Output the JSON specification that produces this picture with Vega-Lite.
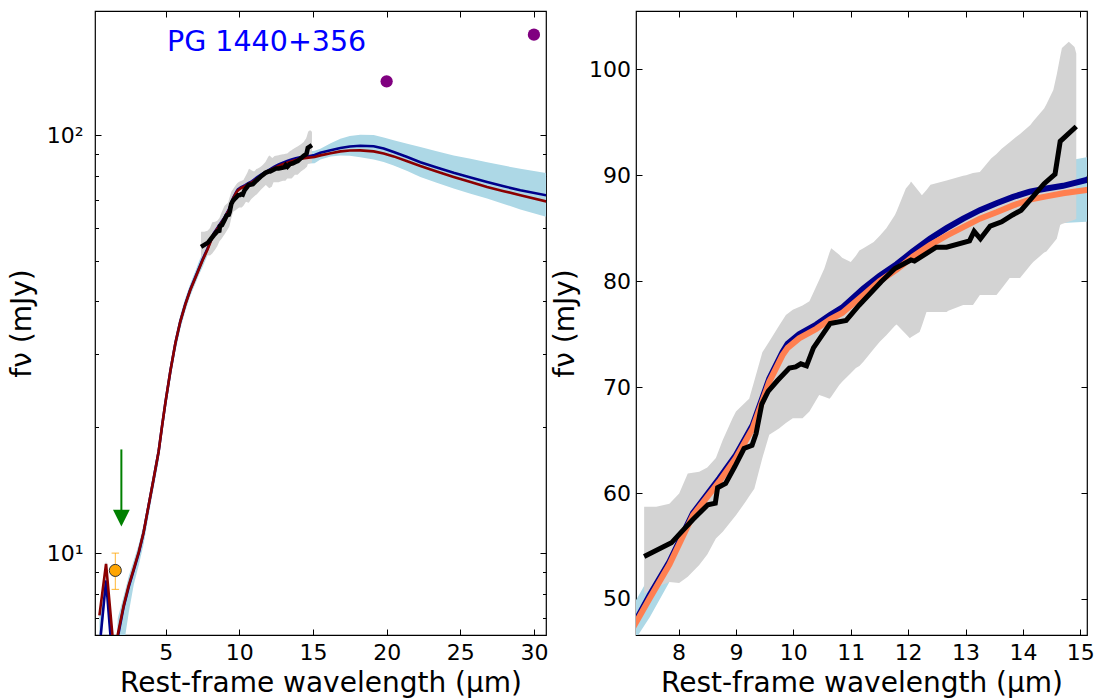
{
  "$schema": "https://vega.github.io/schema/vega-lite/v6.json",
  "background": "white",
  "padding": {"left": 7, "top": 9, "right": 3, "bottom": 4},
  "spacing": 90,
  "bounds": "flush",
  "config": {
    "font": "DejaVu Sans",
    "view": {"stroke": "#000000", "strokeWidth": 1.2},
    "axis": {
      "domain": false, "grid": false, "tickColor": "#000000", "tickWidth": 1,
      "labelColor": "#000000", "titleColor": "#000000",
      "labelFont": "DejaVu Sans", "titleFont": "DejaVu Sans",
      "labelFontSize": 22, "titleFontSize": 28, "titleFontWeight": "normal",
      "tickSize": -6, "labelPadding": 13
    }
  },
  "datasets": {
    "model": [
      {"x": 0.5, "blue": 5.9, "red": 7.1, "lo": 5.5, "hi": 7.3},
      {"x": 0.95, "blue": 8.6, "red": 9.42, "lo": 8.2, "hi": 9.6},
      {"x": 1.45, "blue": 5.2, "red": 6.0, "lo": 5.0, "hi": 6.2},
      {"x": 1.6, "blue": 5.0, "red": 5.2, "lo": 4.6, "hi": 5.6},
      {"x": 1.75, "blue": 6.3, "red": 6.4, "lo": 5.0, "hi": 7.0},
      {"x": 2.15, "blue": 7.45, "red": 7.5, "lo": 6.0, "hi": 7.9},
      {"x": 2.49, "blue": 8.3, "red": 8.37, "lo": 7.2, "hi": 8.8},
      {"x": 2.83, "blue": 9.1, "red": 9.17, "lo": 8.4, "hi": 9.6},
      {"x": 3.17, "blue": 10.0, "red": 10.06, "lo": 9.35, "hi": 10.5},
      {"x": 3.5, "blue": 11.2, "red": 11.22, "lo": 10.5, "hi": 11.7},
      {"x": 3.84, "blue": 13.0, "red": 13.0, "lo": 12.3, "hi": 13.5},
      {"x": 4.18, "blue": 15.05, "red": 15.06, "lo": 14.3, "hi": 15.7},
      {"x": 4.52, "blue": 17.5, "red": 17.5, "lo": 16.6, "hi": 18.2},
      {"x": 4.75, "blue": 20.1, "red": 20.1, "lo": 19.1, "hi": 20.9},
      {"x": 4.98, "blue": 22.9, "red": 22.9, "lo": 21.8, "hi": 23.8},
      {"x": 5.32, "blue": 27.3, "red": 27.3, "lo": 26.0, "hi": 28.4},
      {"x": 5.66, "blue": 31.8, "red": 31.8, "lo": 30.4, "hi": 33.0},
      {"x": 5.99, "blue": 35.8, "red": 35.8, "lo": 34.3, "hi": 37.1},
      {"x": 6.33, "blue": 39.4, "red": 39.3, "lo": 37.9, "hi": 40.7},
      {"x": 6.67, "blue": 42.7, "red": 42.6, "lo": 41.2, "hi": 44.1},
      {"x": 7.01, "blue": 45.7, "red": 45.5, "lo": 44.1, "hi": 47.2},
      {"x": 7.26, "blue": 48.0, "red": 47.8, "lo": 46.3, "hi": 49.9},
      {"x": 7.5, "blue": 50.4, "red": 50.1, "lo": 48.3, "hi": 52.2},
      {"x": 7.84, "blue": 53.5, "red": 53.25, "lo": 51.6, "hi": 55.4},
      {"x": 8.25, "blue": 58.1, "red": 57.9, "lo": 56.0, "hi": 60.0},
      {"x": 8.71, "blue": 61.4, "red": 61.1, "lo": 59.3, "hi": 63.3},
      {"x": 9.0, "blue": 63.6, "red": 63.3, "lo": 61.5, "hi": 65.6},
      {"x": 9.29, "blue": 66.4, "red": 66.1, "lo": 64.2, "hi": 68.5},
      {"x": 9.58, "blue": 70.8, "red": 70.5, "lo": 68.5, "hi": 73.0},
      {"x": 9.81, "blue": 73.3, "red": 73.0, "lo": 71.0, "hi": 75.5},
      {"x": 9.9, "blue": 74.1, "red": 73.7, "lo": 71.8, "hi": 76.3},
      {"x": 10.1, "blue": 75.0, "red": 74.6, "lo": 72.7, "hi": 77.2},
      {"x": 10.4, "blue": 75.9, "red": 75.5, "lo": 73.6, "hi": 78.2},
      {"x": 10.64, "blue": 76.8, "red": 76.4, "lo": 74.3, "hi": 79.0},
      {"x": 10.85, "blue": 77.5, "red": 77.0, "lo": 74.9, "hi": 79.7},
      {"x": 11.22, "blue": 79.3, "red": 78.7, "lo": 76.7, "hi": 81.6},
      {"x": 11.5, "blue": 80.5, "red": 80.0, "lo": 77.8, "hi": 82.8},
      {"x": 11.8, "blue": 81.6, "red": 81.1, "lo": 78.9, "hi": 84.0},
      {"x": 12.08, "blue": 82.8, "red": 82.3, "lo": 80.0, "hi": 85.3},
      {"x": 12.38, "blue": 84.0, "red": 83.4, "lo": 81.2, "hi": 86.5},
      {"x": 12.67, "blue": 85.0, "red": 84.3, "lo": 82.1, "hi": 87.5},
      {"x": 12.96, "blue": 85.9, "red": 85.1, "lo": 83.0, "hi": 88.5},
      {"x": 13.25, "blue": 86.7, "red": 85.9, "lo": 83.7, "hi": 89.3},
      {"x": 13.54, "blue": 87.35, "red": 86.5, "lo": 84.3, "hi": 90.0},
      {"x": 13.83, "blue": 87.95, "red": 87.15, "lo": 84.8, "hi": 90.5},
      {"x": 14.12, "blue": 88.45, "red": 87.7, "lo": 85.2, "hi": 91.0},
      {"x": 14.41, "blue": 88.75, "red": 88.0, "lo": 85.4, "hi": 91.2},
      {"x": 14.7, "blue": 89.0, "red": 88.3, "lo": 85.5, "hi": 91.3},
      {"x": 15.11, "blue": 89.55, "red": 88.6, "lo": 85.6, "hi": 91.7},
      {"x": 15.5, "blue": 90.7, "red": 89.4, "lo": 87.4, "hi": 92.7},
      {"x": 16.2, "blue": 92.0, "red": 90.5, "lo": 88.8, "hi": 95.6},
      {"x": 16.86, "blue": 93.1, "red": 91.4, "lo": 89.4, "hi": 98.0},
      {"x": 17.5, "blue": 93.9, "red": 91.8, "lo": 89.2, "hi": 99.5},
      {"x": 18.21, "blue": 94.3, "red": 91.9, "lo": 88.5, "hi": 100.2},
      {"x": 19.12, "blue": 94.0, "red": 91.4, "lo": 87.4, "hi": 100.0},
      {"x": 19.8, "blue": 92.8, "red": 90.3, "lo": 86.2, "hi": 98.7},
      {"x": 20.48, "blue": 91.1, "red": 88.9, "lo": 84.6, "hi": 97.1},
      {"x": 21.4, "blue": 88.6, "red": 86.6, "lo": 82.0, "hi": 95.3},
      {"x": 22.29, "blue": 86.1, "red": 84.3, "lo": 79.4, "hi": 93.6},
      {"x": 23.4, "blue": 83.6, "red": 81.8, "lo": 76.9, "hi": 91.4},
      {"x": 24.55, "blue": 81.2, "red": 79.4, "lo": 74.5, "hi": 89.4},
      {"x": 25.7, "blue": 79.1, "red": 77.2, "lo": 72.4, "hi": 87.7},
      {"x": 26.82, "blue": 77.2, "red": 75.1, "lo": 70.5, "hi": 86.1},
      {"x": 27.95, "blue": 75.4, "red": 73.4, "lo": 68.4, "hi": 84.5},
      {"x": 29.08, "blue": 73.8, "red": 71.8, "lo": 66.4, "hi": 83.0},
      {"x": 30.9, "blue": 71.7, "red": 69.3, "lo": 63.6, "hi": 81.1}
    ],
    "gray": [
      {"x": 7.40, "lo": 50.5, "hi": 58.7},
      {"x": 7.61, "lo": 51.1, "hi": 58.7},
      {"x": 7.84, "lo": 51.6, "hi": 59.0},
      {"x": 8.01, "lo": 51.5, "hi": 59.95},
      {"x": 8.16, "lo": 52.1, "hi": 61.85},
      {"x": 8.36, "lo": 53.2, "hi": 62.0},
      {"x": 8.50, "lo": 54.2, "hi": 62.4},
      {"x": 8.65, "lo": 55.7, "hi": 63.3},
      {"x": 8.77, "lo": 56.35, "hi": 65.0},
      {"x": 8.94, "lo": 57.5, "hi": 67.05},
      {"x": 9.00, "lo": 57.9, "hi": 67.7},
      {"x": 9.17, "lo": 59.2, "hi": 68.6},
      {"x": 9.23, "lo": 59.7, "hi": 68.9},
      {"x": 9.32, "lo": 60.4, "hi": 70.6},
      {"x": 9.46, "lo": 63.3, "hi": 73.3},
      {"x": 9.58, "lo": 65.5, "hi": 74.3},
      {"x": 9.75, "lo": 66.1, "hi": 75.8},
      {"x": 9.87, "lo": 66.6, "hi": 76.8},
      {"x": 9.99, "lo": 67.05, "hi": 77.3},
      {"x": 10.16, "lo": 67.05, "hi": 77.7},
      {"x": 10.28, "lo": 67.7, "hi": 78.1},
      {"x": 10.45, "lo": 69.25, "hi": 80.1},
      {"x": 10.54, "lo": 69.1, "hi": 81.2},
      {"x": 10.63, "lo": 68.9, "hi": 82.7},
      {"x": 10.66, "lo": 69.1, "hi": 83.1},
      {"x": 10.80, "lo": 70.2, "hi": 82.5},
      {"x": 10.85, "lo": 70.5, "hi": 82.2},
      {"x": 11.00, "lo": 71.3, "hi": 81.8},
      {"x": 11.09, "lo": 71.8, "hi": 82.4},
      {"x": 11.15, "lo": 72.0, "hi": 82.9},
      {"x": 11.22, "lo": 72.4, "hi": 83.1},
      {"x": 11.40, "lo": 73.6, "hi": 83.7},
      {"x": 11.51, "lo": 74.3, "hi": 84.3},
      {"x": 11.62, "lo": 74.9, "hi": 85.0},
      {"x": 11.77, "lo": 75.8, "hi": 86.25},
      {"x": 11.80, "lo": 75.9, "hi": 86.6},
      {"x": 11.96, "lo": 75.0, "hi": 88.75},
      {"x": 12.03, "lo": 74.6, "hi": 89.2},
      {"x": 12.05, "lo": 74.7, "hi": 89.4},
      {"x": 12.20, "lo": 75.2, "hi": 88.4},
      {"x": 12.24, "lo": 75.8, "hi": 88.1},
      {"x": 12.32, "lo": 77.1, "hi": 88.6},
      {"x": 12.39, "lo": 77.1, "hi": 89.1},
      {"x": 12.67, "lo": 77.1, "hi": 89.5},
      {"x": 12.70, "lo": 77.2, "hi": 89.55},
      {"x": 12.96, "lo": 77.75, "hi": 89.95},
      {"x": 13.01, "lo": 77.75, "hi": 90.0},
      {"x": 13.13, "lo": 77.75, "hi": 90.2},
      {"x": 13.25, "lo": 78.7, "hi": 90.3},
      {"x": 13.45, "lo": 78.7, "hi": 91.6},
      {"x": 13.54, "lo": 78.7, "hi": 92.0},
      {"x": 13.63, "lo": 79.3, "hi": 92.5},
      {"x": 13.77, "lo": 80.3, "hi": 93.1},
      {"x": 13.88, "lo": 80.3, "hi": 93.6},
      {"x": 13.95, "lo": 80.3, "hi": 93.9},
      {"x": 14.13, "lo": 81.5, "hi": 94.75},
      {"x": 14.18, "lo": 81.8, "hi": 95.1},
      {"x": 14.37, "lo": 82.7, "hi": 96.3},
      {"x": 14.41, "lo": 82.8, "hi": 96.7},
      {"x": 14.53, "lo": 83.6, "hi": 98.05},
      {"x": 14.59, "lo": 84.0, "hi": 99.5},
      {"x": 14.65, "lo": 85.3, "hi": 101.2},
      {"x": 14.68, "lo": 85.4, "hi": 102.0},
      {"x": 14.80, "lo": 85.6, "hi": 102.6},
      {"x": 14.90, "lo": 85.8, "hi": 102.1},
      {"x": 14.93, "lo": 85.9, "hi": 101.5}
    ],
    "black": [
      {"x": 7.40, "f": 54.0},
      {"x": 7.875, "f": 55.3},
      {"x": 8.25, "f": 57.5},
      {"x": 8.51, "f": 58.9},
      {"x": 8.64, "f": 59.05},
      {"x": 8.68, "f": 60.5},
      {"x": 8.82, "f": 60.9},
      {"x": 8.98, "f": 62.5},
      {"x": 9.14, "f": 64.2},
      {"x": 9.28, "f": 64.5},
      {"x": 9.35, "f": 65.6},
      {"x": 9.45, "f": 68.4},
      {"x": 9.56, "f": 69.6},
      {"x": 9.72, "f": 70.6},
      {"x": 9.93, "f": 71.8},
      {"x": 10.04, "f": 71.9},
      {"x": 10.13, "f": 72.2},
      {"x": 10.23, "f": 72.0},
      {"x": 10.35, "f": 73.7},
      {"x": 10.64, "f": 76.0},
      {"x": 10.92, "f": 76.3},
      {"x": 11.15, "f": 77.75},
      {"x": 11.53, "f": 79.95},
      {"x": 11.77, "f": 81.2},
      {"x": 12.05, "f": 82.0},
      {"x": 12.11, "f": 81.9},
      {"x": 12.49, "f": 83.2},
      {"x": 12.67, "f": 83.2},
      {"x": 13.07, "f": 83.8},
      {"x": 13.15, "f": 84.7},
      {"x": 13.26, "f": 84.0},
      {"x": 13.43, "f": 85.2},
      {"x": 13.63, "f": 85.6},
      {"x": 13.82, "f": 86.25},
      {"x": 13.97, "f": 86.7},
      {"x": 14.13, "f": 87.7},
      {"x": 14.37, "f": 89.2},
      {"x": 14.56, "f": 90.1},
      {"x": 14.65, "f": 93.2},
      {"x": 14.93, "f": 94.6}
    ],
    "purple": [
      {"x": 20.0, "f": 134.4},
      {"x": 30.0, "f": 173.8}
    ],
    "obs": [
      {"x": 1.58, "f": 9.09, "lo": 8.19, "hi": 10.0}
    ],
    "caps": [
      {"x": 1.58, "f": 8.19},
      {"x": 1.58, "f": 10.0}
    ],
    "limit": [
      {"x": 1.99, "top": 17.7, "base": 12.65, "mid": 12.13}
    ],
    "label": [
      {"x": 5.09, "f": 158.8, "text": "PG 1440+356"}
    ]
  },
  "hconcat": [
    {
      "width": 451,
      "height": 624,
      "resolve": {"axis": {"x": "independent", "y": "independent"}},
      "layer": [
        {
          "data": {"name": "model"},
          "mark": {"type": "area", "color": "#add8e6", "opacity": 1, "clip": true},
          "encoding": {
            "x": {"field": "x", "type": "quantitative",
                  "scale": {"domain": [0.2, 30.82], "nice": false, "zero": false},
                  "axis": {"orient": "bottom", "values": [5, 10, 15, 20, 25, 30], "title": "Rest-frame wavelength (μm)", "labelPadding": 13, "titlePadding": 6}},
            "y": {"field": "lo", "type": "quantitative",
                  "scale": {"type": "log", "domain": [6.37, 198], "nice": false},
                  "axis": {"orient": "left", "values": [10, 100], "labelExpr": "datum.value >= 100 ? '10²' : '10¹'", "title": "fν (mJy)", "labelPadding": 18, "titlePadding": 16, "titleBaseline": "alphabetic"}},
            "y2": {"field": "hi"}
          }
        },
        {
          "data": {"name": "gray"},
          "mark": {"type": "area", "color": "#d3d3d3", "opacity": 1, "clip": true},
          "encoding": {
            "x": {"field": "x", "type": "quantitative",
                  "axis": {"orient": "top", "values": [5, 10, 15, 20, 25, 30], "labels": false, "title": null}},
            "y": {"field": "lo", "type": "quantitative",
                  "axis": {"orient": "right", "values": [10, 100], "labels": false, "title": null}},
            "y2": {"field": "hi"}
          }
        },
        {
          "data": {"name": "model"},
          "mark": {"type": "line", "color": "#00008b", "strokeWidth": 2.6, "clip": true},
          "encoding": {
            "x": {"field": "x", "type": "quantitative", "axis": null},
            "y": {"field": "blue", "type": "quantitative",
                  "axis": {"orient": "left", "values": [7, 8, 9, 20, 30, 40, 50, 60, 70, 80, 90], "labels": false, "title": null, "tickSize": -3.5}}
          }
        },
        {
          "data": {"name": "model"},
          "mark": {"type": "line", "color": "#8b0000", "strokeWidth": 2.6, "clip": true},
          "encoding": {
            "x": {"field": "x", "type": "quantitative", "axis": null},
            "y": {"field": "red", "type": "quantitative",
                  "axis": {"orient": "right", "values": [7, 8, 9, 20, 30, 40, 50, 60, 70, 80, 90], "labels": false, "title": null, "tickSize": -3.5}}
          }
        },
        {
          "data": {"name": "black"},
          "mark": {"type": "line", "color": "#000000", "strokeWidth": 4.6, "clip": true},
          "encoding": {
            "x": {"field": "x", "type": "quantitative", "axis": null},
            "y": {"field": "f", "type": "quantitative", "axis": null}
          }
        },
        {
          "data": {"name": "purple"},
          "mark": {"type": "point", "shape": "circle", "filled": true, "color": "#800080", "opacity": 1, "size": 150, "clip": true},
          "encoding": {
            "x": {"field": "x", "type": "quantitative", "axis": null},
            "y": {"field": "f", "type": "quantitative", "axis": null}
          }
        },
        {
          "data": {"name": "obs"},
          "mark": {"type": "rule", "color": "#ffa500", "strokeWidth": 1, "opacity": 0.8},
          "encoding": {
            "x": {"field": "x", "type": "quantitative", "axis": null},
            "y": {"field": "lo", "type": "quantitative", "axis": null},
            "y2": {"field": "hi"}
          }
        },
        {
          "data": {"name": "caps"},
          "mark": {"type": "point", "shape": "M-1,0L1,0", "filled": false, "stroke": "#ffa500", "strokeWidth": 1, "opacity": 0.8, "size": 56},
          "encoding": {
            "x": {"field": "x", "type": "quantitative", "axis": null},
            "y": {"field": "f", "type": "quantitative", "axis": null}
          }
        },
        {
          "data": {"name": "obs"},
          "mark": {"type": "point", "shape": "circle", "filled": true, "fill": "#ffa500", "stroke": "#333333", "strokeWidth": 1, "opacity": 1, "size": 145},
          "encoding": {
            "x": {"field": "x", "type": "quantitative", "axis": null},
            "y": {"field": "f", "type": "quantitative", "axis": null}
          }
        },
        {
          "data": {"name": "limit"},
          "mark": {"type": "rule", "color": "#008000", "strokeWidth": 2},
          "encoding": {
            "x": {"field": "x", "type": "quantitative", "axis": null},
            "y": {"field": "top", "type": "quantitative", "axis": null},
            "y2": {"field": "base"}
          }
        },
        {
          "data": {"name": "limit"},
          "mark": {"type": "point", "shape": "M-1,-1L1,-1L0,1Z", "filled": true, "color": "#008000", "opacity": 1, "size": 280},
          "encoding": {
            "x": {"field": "x", "type": "quantitative", "axis": null},
            "y": {"field": "mid", "type": "quantitative", "axis": null}
          }
        },
        {
          "data": {"name": "label"},
          "mark": {"type": "text", "color": "#0000ff", "font": "DejaVu Sans", "fontSize": 28.5, "align": "left", "baseline": "alphabetic"},
          "encoding": {
            "x": {"field": "x", "type": "quantitative", "axis": null},
            "y": {"field": "f", "type": "quantitative", "axis": null},
            "text": {"field": "text"}
          }
        }
      ]
    },
    {
      "width": 451,
      "height": 624,
      "resolve": {"axis": {"x": "independent", "y": "independent"}},
      "layer": [
        {
          "data": {"name": "model"},
          "mark": {"type": "area", "color": "#add8e6", "opacity": 1, "clip": true},
          "encoding": {
            "x": {"field": "x", "type": "quantitative",
                  "scale": {"domain": [7.258, 15.117], "nice": false, "zero": false},
                  "axis": {"orient": "bottom", "values": [8, 9, 10, 11, 12, 13, 14, 15], "title": "Rest-frame wavelength (μm)", "labelPadding": 13, "titlePadding": 6}},
            "y": {"field": "lo", "type": "quantitative",
                  "scale": {"domain": [46.6, 105.5], "nice": false, "zero": false},
                  "axis": {"orient": "left", "values": [50, 60, 70, 80, 90, 100], "title": "fν (mJy)", "labelPadding": 11.5, "titlePadding": 14.6, "titleBaseline": "alphabetic"}},
            "y2": {"field": "hi"}
          }
        },
        {
          "data": {"name": "gray"},
          "mark": {"type": "area", "color": "#d3d3d3", "opacity": 1, "clip": true},
          "encoding": {
            "x": {"field": "x", "type": "quantitative",
                  "axis": {"orient": "top", "values": [8, 9, 10, 11, 12, 13, 14, 15], "labels": false, "title": null}},
            "y": {"field": "lo", "type": "quantitative",
                  "axis": {"orient": "right", "values": [50, 60, 70, 80, 90, 100], "labels": false, "title": null}},
            "y2": {"field": "hi"}
          }
        },
        {
          "data": {"name": "model"},
          "mark": {"type": "line", "color": "#00008b", "strokeWidth": 6, "clip": true},
          "encoding": {
            "x": {"field": "x", "type": "quantitative", "axis": null},
            "y": {"field": "blue", "type": "quantitative", "axis": null}
          }
        },
        {
          "data": {"name": "model"},
          "mark": {"type": "line", "color": "#ff7f50", "strokeWidth": 6, "clip": true},
          "encoding": {
            "x": {"field": "x", "type": "quantitative", "axis": null},
            "y": {"field": "red", "type": "quantitative", "axis": null}
          }
        },
        {
          "data": {"name": "black"},
          "mark": {"type": "line", "color": "#000000", "strokeWidth": 5, "clip": true},
          "encoding": {
            "x": {"field": "x", "type": "quantitative", "axis": null},
            "y": {"field": "f", "type": "quantitative", "axis": null}
          }
        }
      ]
    }
  ]
}
